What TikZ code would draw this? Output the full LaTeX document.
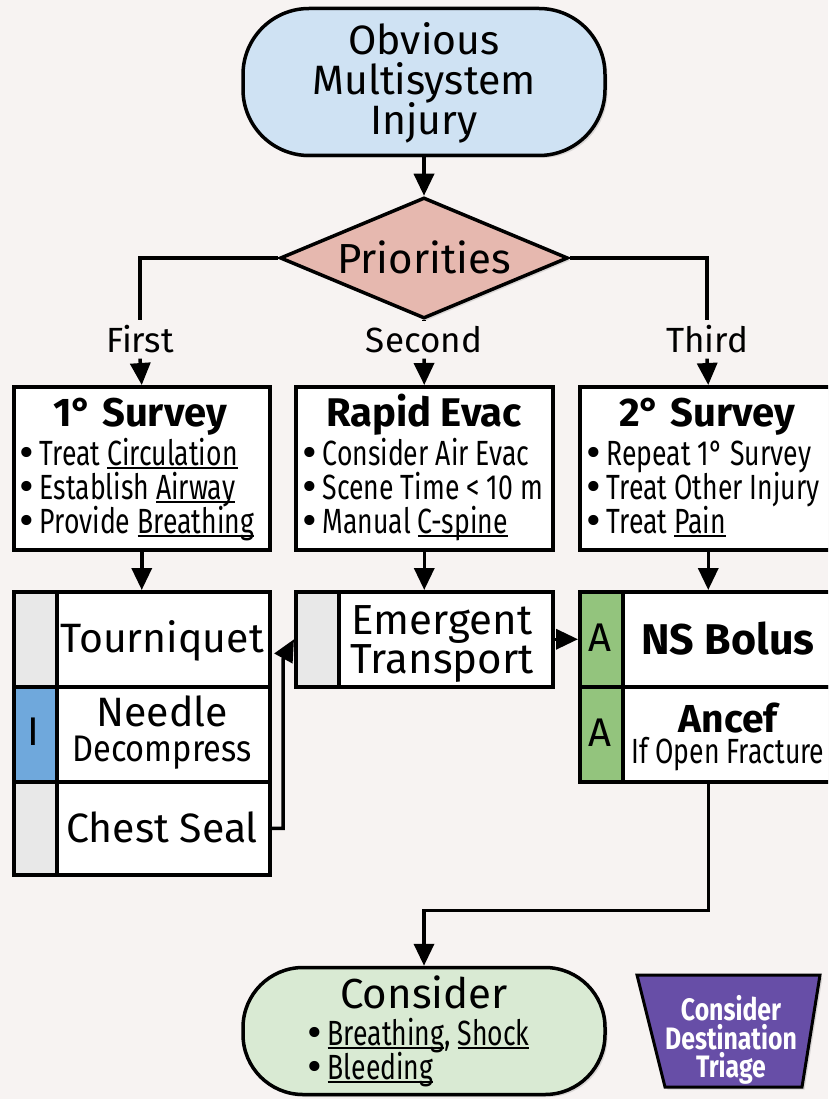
\documentclass[tikz,border=0pt]{standalone}
\usepackage{fontspec}
\setmainfont{Fira Sans}
\newfontfamily\condfont[FakeStretch=0.76]{Fira Sans}
\newfontfamily\semifont[FakeStretch=0.88]{Fira Sans}
\newfontfamily\narrowfont[FakeStretch=0.8]{Fira Sans}
\newfontfamily\dotfont{DejaVu Sans}
\usetikzlibrary{arrows.meta,shapes.geometric,shadows,calc}

\definecolor{pagebg}{HTML}{F7F3F2}
\definecolor{startblue}{HTML}{CFE2F3}
\definecolor{decpink}{HTML}{E6B8AF}
\definecolor{endgreen}{HTML}{D9EAD3}
\definecolor{stripgray}{HTML}{E8E8E8}
\definecolor{stripblue}{HTML}{6FA8DC}
\definecolor{stripgreen}{HTML}{93C47D}
\definecolor{triagepurple}{HTML}{674EA7}

% underline with a heavier rule
\newcommand\uln[1]{\setbox0\hbox{#1}\rlap{\rule[-4pt]{\wd0}{2.2pt}}\box0}
% list bullet, rounder and heavier than the text font's own
\newcommand\bdot{{\dotfont •}\hspace{0.08em}}

\tikzset{
  softshadow/.style={drop shadow={opacity=0.25,shadow xshift=2.5pt,shadow yshift=-2.5pt}},
  box/.style={draw, line width=3.5pt, fill=white, inner sep=0pt, anchor=north west, softshadow},
  strip/.style={draw, line width=3.5pt, inner sep=0pt, anchor=north west, minimum width=43, minimum height=95},
  term/.style={draw, line width=3.5pt, inner sep=0pt, softshadow},
  arr/.style={line width=3.5pt, -{Triangle[length=22pt,width=20pt]}},
  conn/.style={line width=3.5pt},
  ttl/.style={font=\fontsize{40}{44}\selectfont\bfseries, anchor=base, inner sep=0pt},
  big/.style={font=\fontsize{41}{44}\selectfont, anchor=base, inner sep=0pt},
  lbl/.style={font=\fontsize{35}{38}\selectfont, anchor=base, inner sep=0pt},
  bul/.style={font=\condfont\fontsize{35}{38}\selectfont, anchor=base west, inner sep=0pt},
  tag/.style={font=\fontsize{40}{44}\selectfont, anchor=center, inner sep=0pt},
  purp/.style={font=\narrowfont\bfseries\fontsize{31}{30}\selectfont, text=white, anchor=base, inner sep=0pt}
}

\begin{document}
\begin{tikzpicture}[x=1pt,y=-1pt]
\clip (0,0) rectangle (828,1099);
\fill[pagebg] (0,0) rectangle (828,1099);

% start terminator
\node[term, fill=startblue, minimum width=362, minimum height=147, rounded corners=66pt] (top) at (424,82) {};
\node[big] (top1) at (424,55) {Obvious};
\node[big] (top2) at (424,95) {Multisystem};
\node[big] (top3) at (424,135) {Injury};

% decision
\node[diamond, draw, line width=3.5pt, fill=decpink, minimum width=288, minimum height=121, aspect=2.4, inner sep=0pt, softshadow] (pri) at (424,258) {};
\node[big, font=\fontsize{42}{44}\selectfont] (pritxt) at (424,273) {Priorities};

% branch labels
\node[lbl] (lfirst) at (140,352) {First};
\node[lbl] (lsecond) at (424,352) {Second};
\node[lbl] (lthird) at (707,352) {Third};

% survey boxes
\node[box, minimum width=256, minimum height=163] (s1) at (12,385) {};
\node[box, minimum width=257, minimum height=163] (s2) at (294,385) {};
\node[box, minimum width=257, minimum height=163] (s3) at (578,385) {};

\node[ttl] (s1t) at (140,426) {1° Survey};
\node[bul] (s1a) at (16,465) {\bdot Treat \uln{Circulation}};
\node[bul] (s1b) at (16,499) {\bdot Establish \uln{Airway}};
\node[bul] (s1c) at (16,533) {\bdot Provide \uln{Breathing}};

\node[ttl] (s2t) at (424,426) {Rapid Evac};
\node[bul] (s2a) at (299,465) {\bdot Consider Air Evac};
\node[bul] (s2b) at (299,499) {\bdot Scene Time < 10 m};
\node[bul] (s2c) at (299,533) {\bdot Manual \uln{C-spine}};

\node[ttl] (s3t) at (707,426) {2° Survey};
\node[bul] (s3a) at (583,465) {\bdot Repeat 1° Survey};
\node[bul] (s3b) at (583,499) {\bdot Treat Other Injury};
\node[bul] (s3c) at (583,533) {\bdot Treat \uln{Pain}};

% interventions, left stack
\node[box, minimum width=256, minimum height=95] (tq) at (12,590) {};
\node[box, minimum width=256, minimum height=95] (nd) at (12,685) {};
\node[box, minimum width=256, minimum height=93] (cs) at (12,780) {};
\node[strip, fill=stripgray] (tqs) at (12,590) {};
\node[strip, fill=stripblue] (nds) at (12,685) {};
\node[strip, fill=stripgray, minimum height=93] (css) at (12,780) {};
\node[tag] (ndtag) at (33,732) {I};
\node[big] (tqtxt) at (162,652) {Tourniquet};
\node[inner sep=0pt, align=center, anchor=center, font=\fontsize{41}{35}\selectfont] (ndtxt) at (162,733)
  {Needle\\{\semifont\fontsize{37}{35}\selectfont Decompress}};
\node[big] (cstxt) at (162,842) {Chest Seal};

% transport
\node[box, minimum width=257, minimum height=95] (et) at (294,590) {};
\node[strip, fill=stripgray] (ets) at (294,590) {};
\node[inner sep=0pt, align=center, anchor=center, font=\fontsize{42}{37}\selectfont] (ettxt) at (442,644)
  {Emergent\\Transport};

% medications, right stack
\node[box, minimum width=257, minimum height=95] (ns) at (578,590) {};
\node[box, minimum width=257, minimum height=95] (an) at (578,685) {};
\node[strip, fill=stripgreen] (nss) at (578,590) {};
\node[strip, fill=stripgreen] (ans) at (578,685) {};
\node[tag] (nstag) at (600,638) {A};
\node[tag] (antag) at (600,733) {A};
\node[ttl, font=\fontsize{43}{44}\selectfont\bfseries] (nstxt) at (728,654) {NS Bolus};
\node[inner sep=0pt, align=center, anchor=center, font=\fontsize{35}{31}\selectfont] (antxt) at (728,737)
  {{\bfseries\fontsize{39}{31}\selectfont Ancef}\\{\condfont If Open Fracture}};

% end terminator
\node[term, fill=endgreen, minimum width=362, minimum height=127, rounded corners=60pt] (co) at (424,1031) {};
\node[big, font=\fontsize{42}{44}\selectfont] (cot) at (424,1008) {Consider};
\node[bul] (coa) at (304,1045) {\bdot \uln{Breathing}, \uln{Shock}};
\node[bul] (cob) at (304,1079) {\bdot \uln{Bleeding}};

% destination triage badge
\filldraw[fill=triagepurple, draw=black, line width=3pt, softshadow]
  (637,975) -- (820,975) -- (802,1087) -- (665,1087) -- cycle;
\node[purp] (dt1) at (731,1020) {Consider};
\node[purp] (dt2) at (731,1049) {Destination};
\node[purp] (dt3) at (731,1077) {Triage};

% connectors
\draw[arr] (top.south) -- (pri.north);
\draw[conn] (pri.west) -| ([yshift=5pt]lfirst.north);
\draw[conn] (pri.south) -- ([yshift=5pt]lsecond.north);
\draw[conn] (pri.east) -| ([yshift=5pt]lthird.north);
\draw[arr] ([yshift=-6pt]lfirst.south) -- (s1.north);
\draw[arr] ([yshift=-6pt]lsecond.south) -- (s2.north);
\draw[arr] ([yshift=-6pt]lthird.south) -- (s3.north);
\draw[arr] (s1.south) -- (tq.north);
\draw[arr] (s2.south) -- (et.north);
\draw[arr] (s3.south) -- (ns.north);
\draw[arr] (cs.east) -| ($(et.west)+(-11,20)$) -- (et.west);
\draw[arr] (et.east) -- (nss.west);
\draw[arr] (an.south) -- ++(0,127) -| (co.north);
\end{tikzpicture}
\end{document}
